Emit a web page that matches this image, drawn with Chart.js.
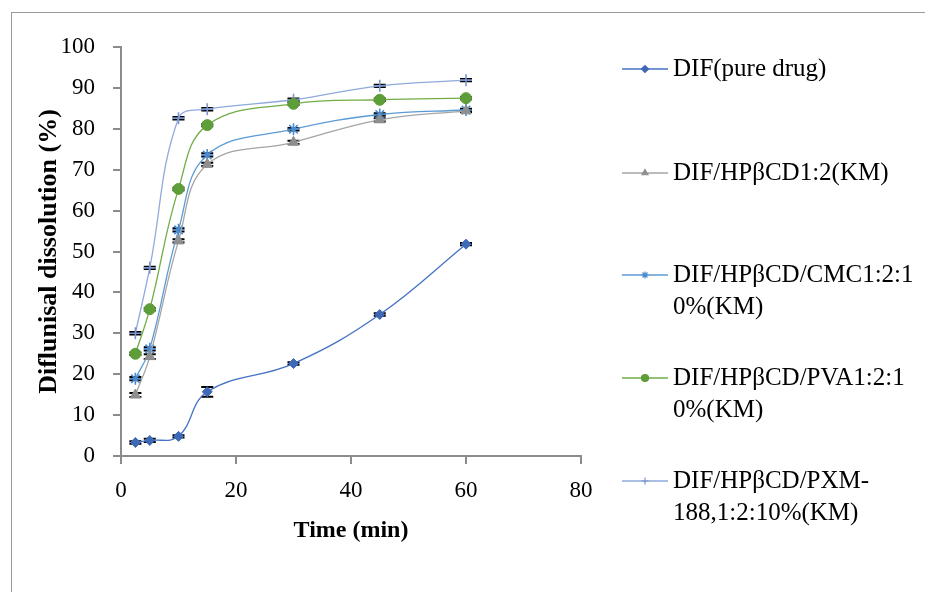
<!DOCTYPE html>
<html>
<head>
<meta charset="utf-8">
<script src="https://cdn.jsdelivr.net/npm/chart.js@4.4.1/dist/chart.umd.min.js"></script>
<style>
  html, body { margin: 0; padding: 0; background: #fff; overflow: hidden; }
  #wrap { position: relative; width: 925px; height: 592px; }
  #frame { position: absolute; left: 11px; top: 12px; width: 1000px; height: 1000px; border: 1px solid #9a9a9a; box-sizing: border-box; }
  canvas { position: absolute; left: 0; top: 0; }
</style>
</head>
<body>
<div id="wrap">
  <div id="frame"></div>
  <canvas id="chart" width="925" height="592"></canvas>
</div>
<script>
// time points (min)
const times = [2.5, 5, 10, 15, 30, 45, 60];

const seriesLabels = [
  ['DIF(pure drug)'],
  ['DIF/HPβCD1:2(KM)'],
  ['DIF/HPβCD/CMC1:2:1', '0%(KM)'],
  ['DIF/HPβCD/PVA1:2:1', '0%(KM)'],
  ['DIF/HPβCD/PXM-', '188,1:2:10%(KM)']
];

// % dissolved
const pureDrug = [3.3, 3.8, 4.8, 15.7, 22.6, 34.6, 51.8];
const hpbcd    = [14.9, 24.3, 52.6, 71.3, 76.7, 82.2, 84.4];
const cmc      = [18.9, 26.2, 55.3, 73.6, 79.9, 83.5, 84.6];
const pva      = [25.0, 35.9, 65.3, 80.9, 86.1, 87.1, 87.5];
const pxm      = [30.0, 46.0, 82.6, 84.8, 87.1, 90.5, 91.9];

// error bars (± SD)
const pureDrugErr = [0.3, 0.4, 0.3, 1.2, 0.3, 0.3, 0.3];
const hpbcdErr    = [0.5, 0.6, 0.4, 0.4, 0.4, 0.4, 0.3];
const cmcErr      = [0.4, 0.4, 0.4, 0.4, 0.3, 0.3, 0.3];
const pvaErr      = [0.3, 0.3, 0.3, 0.3, 0.3, 0.3, 0.3];
const pxmErr      = [0.3, 0.3, 0.3, 0.3, 0.3, 0.3, 0.3];

const xTicks = [0, 20, 40, 60, 80];
const yTicks = [0, 10, 20, 30, 40, 50, 60, 70, 80, 90, 100];

const FONT = '"Liberation Serif", "Times New Roman", serif';

const toPoints = (vals) => vals.map((v, i) => ({ x: times[i], y: v }));

const styles = [
  { line: '#4472c4', fill: '#3e69b6', shape: 'rectRot', r: 5 },
  { line: '#a5a5a5', fill: '#8f8f8f', shape: 'triangle', r: 6 },
  { line: '#5b9bd5', fill: '#4a8bd0', shape: 'star', r: 6 },
  { line: '#70ad47', fill: '#5e9e38', shape: 'circle', r: 5.5 },
  { line: '#8faadc', fill: '#7b96cf', shape: 'cross', r: 6 }
];
const allValues = [pureDrug, hpbcd, cmc, pva, pxm];
const allErrors = [pureDrugErr, hpbcdErr, cmcErr, pvaErr, pxmErr];

const datasets = allValues.map((vals, i) => ({
  label: seriesLabels[i].join(''),
  data: toPoints(vals),
  errors: allErrors[i],
  borderColor: styles[i].line,
  borderWidth: 1.3,
  backgroundColor: styles[i].fill,
  pointBackgroundColor: styles[i].fill,
  pointBorderColor: styles[i].fill,
  pointBorderWidth: styles[i].shape === 'star' || styles[i].shape === 'cross' ? 1.6 : 1,
  pointStyle: styles[i].shape,
  pointRadius: styles[i].r,
  tension: 0.4,
  fill: false
}));

// error bars drawn under the markers
const errorBars = {
  id: 'errorBars',
  beforeDatasetsDraw(chart) {
    const { ctx } = chart;
    const yScale = chart.scales.y;
    ctx.save();
    ctx.strokeStyle = '#000';
    ctx.lineWidth = 2;
    chart.data.datasets.forEach((ds, di) => {
      const meta = chart.getDatasetMeta(di);
      meta.data.forEach((pt, j) => {
        const v = ds.data[j].y, e = ds.errors[j];
        const yTop = yScale.getPixelForValue(v + e);
        const yBot = yScale.getPixelForValue(v - e);
        ctx.beginPath();
        ctx.moveTo(pt.x, yTop); ctx.lineTo(pt.x, yBot);
        ctx.moveTo(pt.x - 6, yTop); ctx.lineTo(pt.x + 6, yTop);
        ctx.moveTo(pt.x - 6, yBot); ctx.lineTo(pt.x + 6, yBot);
        ctx.stroke();
      });
    });
    ctx.restore();
  }
};

// legend on the right, with wrapped labels
const sideLegend = {
  id: 'sideLegend',
  afterDraw(chart) {
    const { ctx } = chart;
    const rows = [69, 173, 275, 378, 481];
    ctx.save();
    chart.data.datasets.forEach((ds, i) => {
      const y = rows[i];
      ctx.strokeStyle = ds.borderColor;
      ctx.lineWidth = 1.3;
      ctx.beginPath();
      ctx.moveTo(622, y); ctx.lineTo(668, y);
      ctx.stroke();
      ctx.fillStyle = ds.pointBackgroundColor;
      ctx.strokeStyle = ds.pointBorderColor;
      ctx.lineWidth = 1.2;
      Chart.helpers.drawPoint(ctx, { pointStyle: ds.pointStyle, radius: 3.5, borderWidth: 1.2 }, 645, y);
      ctx.fillStyle = '#000';
      ctx.font = '25px ' + FONT;
      ctx.textBaseline = 'middle';
      ctx.textAlign = 'left';
      seriesLabels[i].forEach((line, k) => ctx.fillText(line, 673, y + k * 32.5));
    });
    ctx.restore();
  }
};

new Chart(document.getElementById('chart'), {
  type: 'line',
  data: { datasets },
  plugins: [errorBars, sideLegend],
  options: {
    responsive: false,
    animation: false,
    layout: { padding: { left: 34, right: 344, top: 47, bottom: 47 } },
    plugins: { legend: { display: false }, tooltip: { enabled: false } },
    scales: {
      x: {
        type: 'linear',
        min: 0, max: 80,
        afterBuildTicks: (s) => { s.ticks = xTicks.map(v => ({ value: v })); },
        afterFit: (s) => { s.height = 89; },
        grid: { drawOnChartArea: false, tickLength: 8, color: '#8c8c8c', lineWidth: 2 },
        border: { color: '#8c8c8c', width: 2 },
        ticks: { color: '#000', font: { family: FONT, size: 23 }, padding: 13, maxRotation: 0 },
        title: { display: true, text: 'Time (min)', color: '#000', font: { family: FONT, size: 24, weight: 'bold' }, padding: 0 }
      },
      y: {
        type: 'linear',
        min: 0, max: 100,
        afterBuildTicks: (s) => { s.ticks = yTicks.map(v => ({ value: v })); },
        afterFit: (s) => { s.width = 87; },
        grid: { drawOnChartArea: false, tickLength: 8, color: '#8c8c8c', lineWidth: 2 },
        border: { color: '#8c8c8c', width: 2 },
        ticks: { color: '#000', font: { family: FONT, size: 23 }, padding: 18 },
        title: { display: true, text: 'Diflunisal dissolution (%)', color: '#000', font: { family: FONT, size: 26, weight: 'bold' }, padding: 0 }
      }
    }
  }
});
</script>
</body>
</html>
